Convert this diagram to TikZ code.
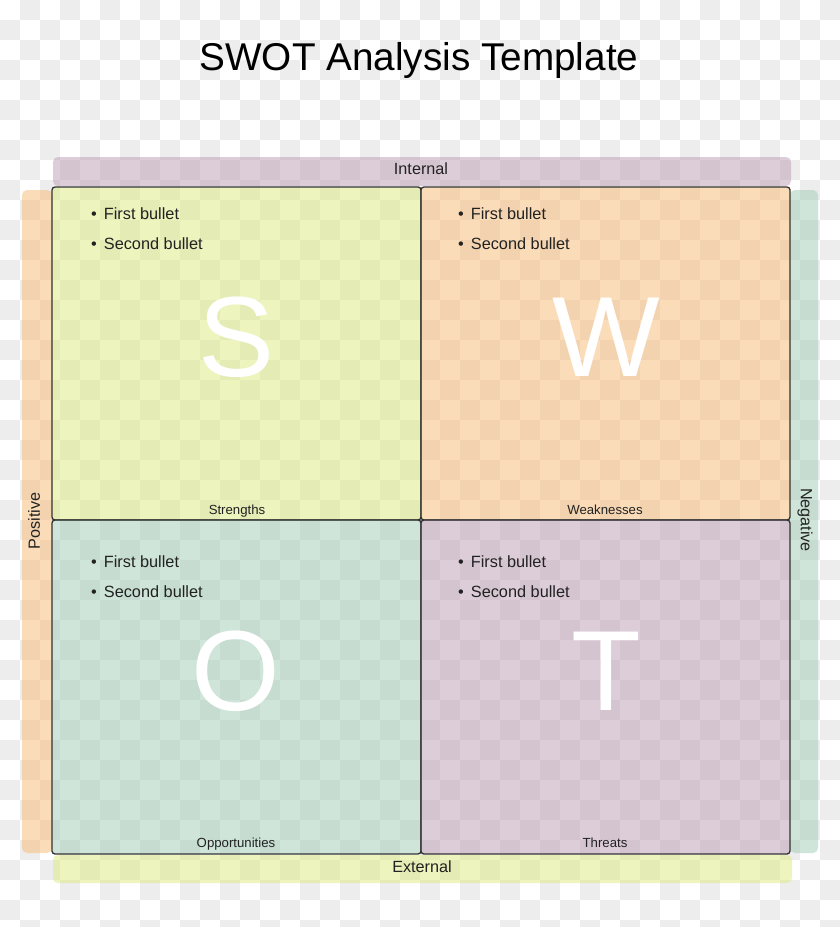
\documentclass[tikz,border=0pt]{standalone}
\usepackage{fontspec}
\setmainfont{Liberation Sans}
\definecolor{checkgray}{HTML}{EDEDED}
\definecolor{cS}{HTML}{DDEB7D}
\definecolor{cW}{HTML}{F9BB73}
\definecolor{cO}{HTML}{A1CDB5}
\definecolor{cT}{HTML}{BD9DB3}
\definecolor{edge}{HTML}{333333}
\definecolor{txt}{HTML}{222222}
\begin{document}
\begin{tikzpicture}[x=1pt,y=-1pt,
  quad/.style={draw=edge,line width=1.3pt,rounded corners=3pt,fill opacity=0.5,draw opacity=1,inner sep=0pt},
  band/.style={rounded corners=5pt,fill opacity=0.5,inner sep=0pt},
  bullets/.style={anchor=north west,align=left,inner sep=0pt,text=txt,font=\fontsize{16.3}{30}\selectfont},
  biglet/.style={text=white,inner sep=0pt,font=\fontsize{114}{114}\selectfont},
  qlabel/.style={text=txt,inner sep=0pt,anchor=base,font=\fontsize{13.2}{15}\selectfont},
  blabel/.style={text=txt,inner sep=0pt,font=\fontsize{16.2}{18}\selectfont}]
\useasboundingbox (0,0) rectangle (840,927);
\fill[white] (0,0) rectangle (840,927);
\foreach \i in {0,...,41}{
  \foreach \j in {0,...,46}{
    \ifodd\numexpr\i+\j\relax
      \fill[checkgray] (\i*20,\j*20) rectangle ++(20,20);
    \fi
  }
}
% title
\node[inner sep=0pt,font=\fontsize{38.7}{40}\selectfont] (title) at (419,60) {SWOT Analysis Template};
% bands
\node[band,fill=cT,minimum width=738pt,minimum height=29pt] (internal) at (422,171.5) {};
\node[band,fill=cW,minimum width=30pt,minimum height=663pt] (positive) at (37,521.5) {};
\node[band,fill=cO,minimum width=28pt,minimum height=663pt] (negative) at (804,521.5) {};
\node[band,fill=cS,minimum width=739pt,minimum height=28pt] (external) at (422.5,869) {};
\node[blabel] (internalt) at (421,168.5) {Internal};
\node[blabel] (externalt) at (422,867) {External};
\node[blabel,rotate=90] (positivet) at (34,521) {Positive};
\node[blabel,rotate=-90] (negativet) at (805,520) {Negative};
% quadrants
\node[quad,fill=cS,minimum width=369pt,minimum height=333pt] (S) at (236.5,353.5) {};
\node[quad,fill=cW,minimum width=369pt,minimum height=333pt] (W) at (605.5,353.5) {};
\node[quad,fill=cO,minimum width=369pt,minimum height=334pt] (O) at (236.5,687) {};
\node[quad,fill=cT,minimum width=369pt,minimum height=334pt] (T) at (605.5,687) {};
% big letters
\node[biglet] (Sl) at (237,337) {S};
\node[biglet] (Wl) at (606,337) {W};
\node[biglet] (Ol) at (236,671) {O};
\node[biglet] (Tl) at (606,671) {T};
% quadrant labels
\node[qlabel] (Sq) at (237,514) {Strengths};
\node[qlabel] (Wq) at (605,514) {Weaknesses};
\node[qlabel] (Oq) at (236,847) {Opportunities};
\node[qlabel] (Tq) at (605,847) {Threats};
% bullets
\node[bullets] (Sb) at (91,207) {\textbullet\hspace{7pt}First bullet\\\textbullet\hspace{7pt}Second bullet};
\node[bullets] (Wb) at (458,207) {\textbullet\hspace{7pt}First bullet\\\textbullet\hspace{7pt}Second bullet};
\node[bullets] (Ob) at (91,555) {\textbullet\hspace{7pt}First bullet\\\textbullet\hspace{7pt}Second bullet};
\node[bullets] (Tb) at (458,555) {\textbullet\hspace{7pt}First bullet\\\textbullet\hspace{7pt}Second bullet};
\end{tikzpicture}
\end{document}
